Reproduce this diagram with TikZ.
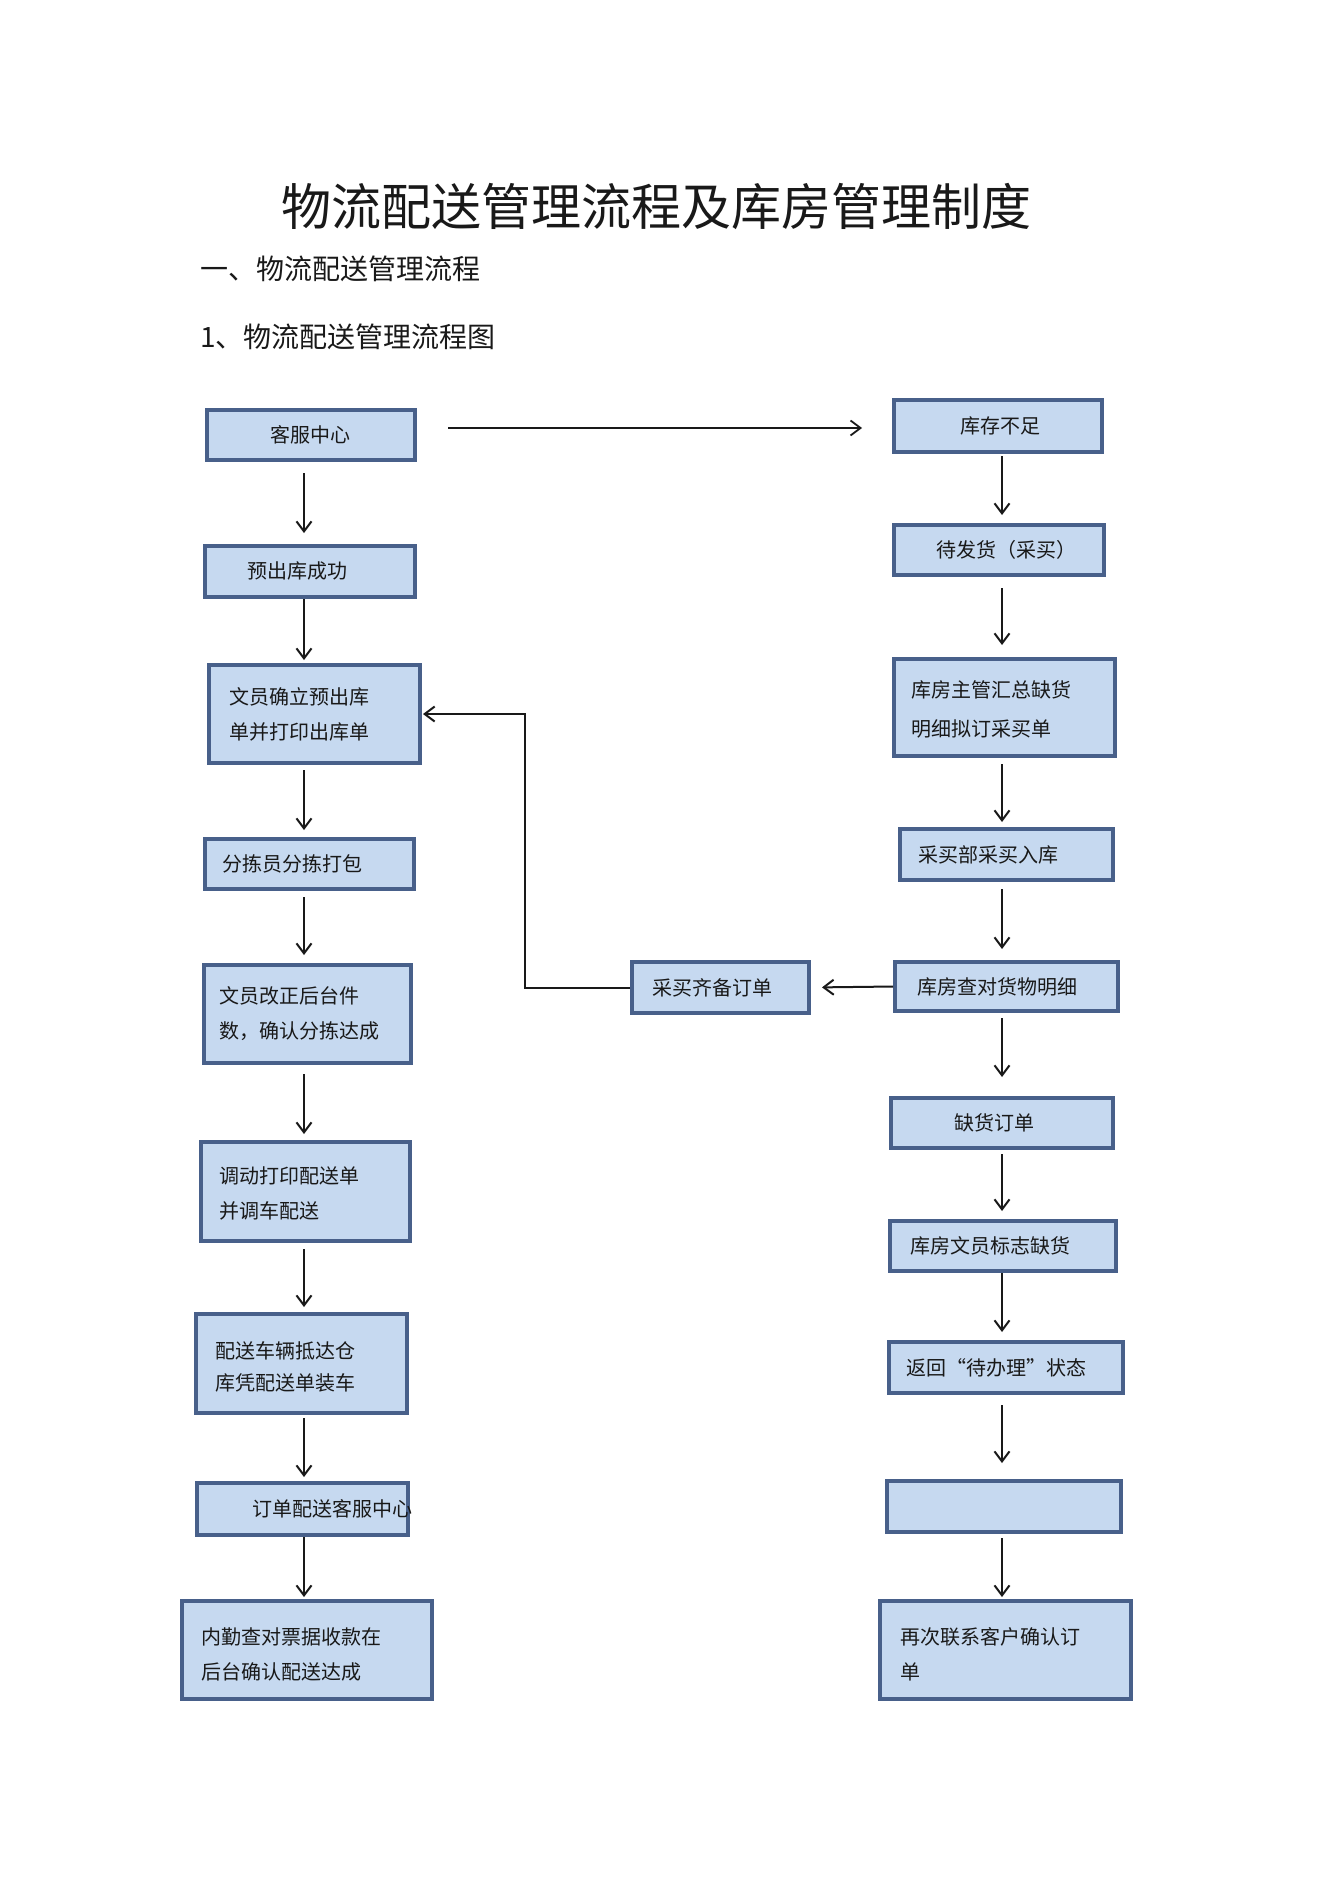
\documentclass[tikz,border=0pt]{standalone}
\usepackage{fontspec}
\setmainfont{Noto Sans CJK SC}
\usetikzlibrary{arrows.meta}
\definecolor{boxfill}{RGB}{198,217,240}
\definecolor{boxline}{RGB}{72,96,138}
\definecolor{ink}{RGB}{25,25,25}
\tikzset{
  bx/.style={draw=boxline, fill=boxfill, line width=4pt, rectangle, inner sep=0pt},
  tx/.style={font=\fontsize{20}{35}\selectfont, align=left, inner sep=0pt, text=ink, anchor=west},
  arr/.style={draw=ink, line width=2pt, -{Straight Barb[length=10pt,width=15pt]}},
  ln/.style={draw=ink, line width=2pt},
}
\newcommand\mkbox[5]{\node[bx, minimum width={(#4-#2-4)*1pt}, minimum height={(#5-#3-4)*1pt}] (#1) at ({(#2+#4)/2},{(#3+#5)/2}) {};}
\newcommand\mktext[4]{\node[tx] (#1) at (#2,#3) {#4};}
\begin{document}
\begin{tikzpicture}[x=1pt,y=-1pt]
\useasboundingbox[fill=white] (0,0) rectangle (1327,1879);
% headings
\node[font=\fontsize{50}{60}\selectfont, text=ink, inner sep=0pt] (title) at (656,206) {物流配送管理流程及库房管理制度};
\node[font=\fontsize{28}{34}\selectfont, text=ink, inner sep=0pt, anchor=west] (h1) at (200,269) {一、物流配送管理流程};
\node[font=\fontsize{28}{34}\selectfont, text=ink, inner sep=0pt, anchor=west] (h2) at (200,337) {1、物流配送管理流程图};
% left column boxes
\mkbox{kf}{205}{408}{417}{462}
\mktext{kft}{270}{435}{客服中心}
\mkbox{yc}{203}{544}{417}{599}
\mktext{yct}{247}{571}{预出库成功}
\mkbox{wy}{207}{663}{422}{765}
\mktext{wyt}{229}{714}{文员确立预出库\\单并打印出库单}
\mkbox{fj}{203}{837}{416}{891}
\mktext{fjt}{222}{864}{分拣员分拣打包}
\mkbox{gz}{202}{963}{413}{1065}
\mktext{gzt}{219}{1014}{文员改正后台件\\数，确认分拣达成}
\mkbox{dd}{199}{1140}{412}{1243}
\mktext{ddt}{219}{1193}{调动打印配送单\\并调车配送}
\mkbox{ps}{194}{1312}{409}{1415}
\mktext{pst}{215}{1367}{配送车辆抵达仓\\[-3pt]库凭配送单装车}
\mkbox{dk}{195}{1481}{410}{1537}
\mktext{dkt}{252}{1509}{订单配送客服中心}
\mkbox{nq}{180}{1599}{434}{1701}
\mktext{nqt}{201}{1654}{内勤查对票据收款在\\后台确认配送达成}
% right column boxes
\mkbox{kc}{892}{398}{1104}{454}
\mktext{kct}{960}{426}{库存不足}
\mkbox{df}{892}{523}{1106}{577}
\mktext{dft}{936}{550}{待发货（采买）}
\mkbox{zg}{892}{657}{1117}{758}
\mktext{zgt}{911}{709}{库房主管汇总缺货\\[4pt]明细拟订采买单}
\mkbox{cg}{898}{827}{1115}{882}
\mktext{cgt}{918}{855}{采买部采买入库}
\mkbox{cy}{893}{960}{1120}{1013}
\mktext{cyt}{917}{987}{库房查对货物明细}
\mkbox{cq}{630}{960}{811}{1015}
\mktext{cqt}{652}{988}{采买齐备订单}
\mkbox{qh}{889}{1096}{1115}{1150}
\mktext{qht}{954}{1123}{缺货订单}
\mkbox{bz}{888}{1219}{1118}{1273}
\mktext{bzt}{910}{1246}{库房文员标志缺货}
\mkbox{fh}{887}{1340}{1125}{1395}
\mktext{fht}{906}{1368}{返回“待办理”状态}
\mkbox{ep}{885}{1479}{1123}{1534}
\mkbox{zc}{878}{1599}{1133}{1701}
\mktext{zct}{900}{1654}{再次联系客户确认订\\单}
% column guides
\coordinate (L) at (304,0);
\coordinate (R) at (1002,0);
\coordinate (topy) at (0,428);
% left arrows
\draw[arr, shorten <=11pt, shorten >=11pt] (kf.south -| L) -- (yc.north -| L);
\draw[arr, shorten <=0pt, shorten >=3pt] (yc.south -| L) -- (wy.north -| L);
\draw[arr, shorten <=5pt, shorten >=7pt] (wy.south -| L) -- (fj.north -| L);
\draw[arr, shorten <=6pt, shorten >=8pt] (fj.south -| L) -- (gz.north -| L);
\draw[arr, shorten <=9pt, shorten >=6pt] (gz.south -| L) -- (dd.north -| L);
\draw[arr, shorten <=6pt, shorten >=5pt] (dd.south -| L) -- (ps.north -| L);
\draw[arr, shorten <=3pt, shorten >=4pt] (ps.south -| L) -- (dk.north -| L);
\draw[arr, shorten <=0pt, shorten >=2pt] (dk.south -| L) -- (nq.north -| L);
% right arrows
\draw[arr, shorten <=2pt, shorten >=8pt] (kc.south -| R) -- (df.north -| R);
\draw[arr, shorten <=11pt, shorten >=12pt] (df.south -| R) -- (zg.north -| R);
\draw[arr, shorten <=6pt, shorten >=5pt] (zg.south -| R) -- (cg.north -| R);
\draw[arr, shorten <=7pt, shorten >=11pt] (cg.south -| R) -- (cy.north -| R);
\draw[arr, shorten <=5pt, shorten >=19pt] (cy.south -| R) -- (qh.north -| R);
\draw[arr, shorten <=4pt, shorten >=8pt] (qh.south -| R) -- (bz.north -| R);
\draw[arr, shorten <=0pt, shorten >=8pt] (bz.south -| R) -- (fh.north -| R);
\draw[arr, shorten <=10pt, shorten >=16pt] (fh.south -| R) -- (ep.north -| R);
\draw[arr, shorten <=4pt, shorten >=2pt] (ep.south -| R) -- (zc.north -| R);
% horizontal connectors
\draw[arr, line width=1.8pt, shorten <=31pt, shorten >=30pt] (kf.east |- topy) -- (kc.west |- topy);
\draw[arr, shorten >=11pt] (cy.west) -- (cq.east);
\draw[arr, shorten >=1pt] (cq.west) -- ++(-105,0) |- (wy.east);
\end{tikzpicture}
\end{document}
